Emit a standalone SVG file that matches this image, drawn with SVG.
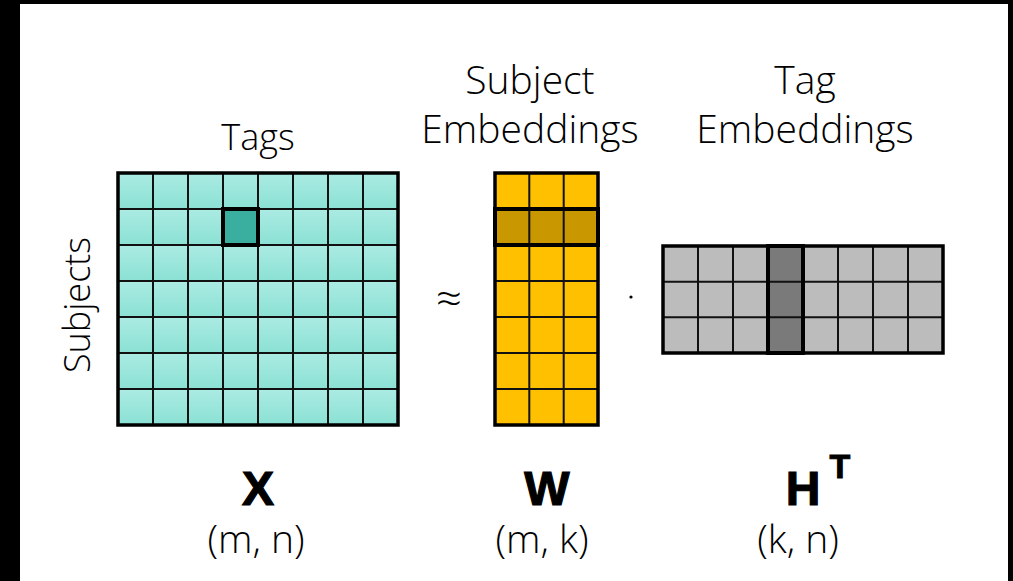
<svg xmlns="http://www.w3.org/2000/svg" width="1013" height="581" viewBox="0 0 1013 581">
  <style>
    .lbl { font-family: "Open Sans", "Liberation Sans", sans-serif; font-weight: 300; font-size: 39px; fill: #000; text-anchor: middle; }
    .small { font-size: 36px; }
    .approx { font-size: 46px; }
    .sym { font-family: "Liberation Sans", "DejaVu Sans", sans-serif; font-weight: bold; font-size: 48px; fill: #000; stroke: #000; stroke-width: 1.2; text-anchor: middle; }
    .sup { font-size: 34px; stroke-width: 0.9; }
    .grid { fill: none; stroke: #111; stroke-width: 2; }
    .outer { fill: none; stroke: #000; stroke-width: 3.5; }
  </style>
  <defs>
    <linearGradient id="tealCell" x1="0" y1="0" x2="0" y2="1">
      <stop offset="0" stop-color="#abebe3"/>
      <stop offset="1" stop-color="#8be1d4"/>
    </linearGradient>
    <pattern id="tealGrid" patternUnits="userSpaceOnUse" x="118" y="173" width="35" height="36">
      <rect x="0" y="0" width="35" height="36" fill="url(#tealCell)"/>
    </pattern>
  </defs>

  <!-- frame -->
  <rect x="0" y="0" width="1013" height="581" fill="#000"/>
  <rect x="20" y="4" width="988" height="577" fill="#fff"/>

  <!-- X : subjects x tags -->
  <g id="matrix-x">
    <rect x="118" y="173" width="280" height="252" fill="url(#tealGrid)"/>
    <path class="grid" d="M153 173V425M188 173V425M223 173V425M258 173V425M293 173V425M328 173V425M363 173V425
                          M118 209H398M118 245H398M118 281H398M118 317H398M118 353H398M118 389H398"/>
    <rect x="223" y="209" width="35" height="36" fill="#3aae9f" stroke="#000" stroke-width="4"/>
    <rect class="outer" x="118" y="173" width="280" height="252"/>
  </g>

  <!-- W : subject embeddings -->
  <g id="matrix-w">
    <rect x="495" y="173" width="103" height="252" fill="#ffc000"/>
    <rect x="495" y="209" width="103" height="36" fill="#c99700"/>
    <path class="grid" d="M529.3 173V425M563.7 173V425
                          M495 209H598M495 245H598M495 281H598M495 317H598M495 353H598M495 389H598"/>
    <rect x="495" y="209" width="103" height="36" fill="none" stroke="#000" stroke-width="4"/>
    <rect class="outer" x="495" y="173" width="103" height="252"/>
  </g>

  <!-- H transpose : tag embeddings -->
  <g id="matrix-ht">
    <rect x="663" y="246" width="280" height="107" fill="#bcbcbc"/>
    <rect x="768" y="246" width="35" height="107" fill="#7a7a7a"/>
    <path class="grid" d="M698 246V353M733 246V353M768 246V353M803 246V353M838 246V353M873 246V353M908 246V353
                          M663 281.7H943M663 317.3H943"/>
    <rect x="768" y="246" width="35" height="107" fill="none" stroke="#000" stroke-width="4"/>
    <rect class="outer" x="663" y="246" width="280" height="107"/>
  </g>

  <!-- axis and column titles -->
  <g id="titles">
    <text class="lbl small" x="258" y="150">Tags</text>
    <text class="lbl" x="530" y="94">Subject</text>
    <text class="lbl" x="530" y="143">Embeddings</text>
    <text class="lbl" x="805" y="94">Tag</text>
    <text class="lbl" x="805" y="143">Embeddings</text>
    <text class="lbl small" transform="translate(90 305) rotate(-90)">Subjects</text>
  </g>

  <!-- operators -->
  <g id="operators">
    <text class="lbl approx" x="449" y="315">≈</text>
    <circle cx="631" cy="297" r="1.6" fill="#000"/>
  </g>

  <!-- matrix names and shapes -->
  <g id="names">
    <text class="sym" x="258" y="505">X</text>
    <text class="sym" x="547" y="505">W</text>
    <text class="sym" x="803" y="505">H</text>
    <text class="sym sup" x="840" y="478">T</text>
    <text class="lbl" x="256" y="553">(m, n)</text>
    <text class="lbl" x="542" y="553">(m, k)</text>
    <text class="lbl" x="798" y="553">(k, n)</text>
  </g>
</svg>
